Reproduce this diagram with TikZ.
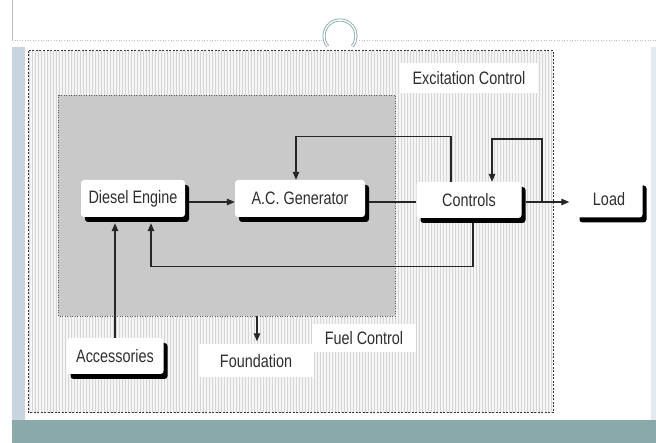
\documentclass[tikz,border=0pt]{standalone}
\usepackage{fontspec}
\newfontfamily\labfont[FakeStretch=0.8]{Liberation Sans}
\usetikzlibrary{arrows.meta,shadows}
\definecolor{tealc}{RGB}{138,169,170}
\definecolor{stripc}{RGB}{200,213,222}
\definecolor{greyc}{RGB}{201,201,201}
\definecolor{ringc}{RGB}{130,165,165}
\begin{document}
\begin{tikzpicture}[x=1pt,y=-1pt,
  shbox/.style={fill=white, rounded corners=3pt, inner sep=0pt, text=black!82,
    font=\labfont\fontsize{18}{20}\selectfont,
    drop shadow={shadow xshift=4pt, shadow yshift=-5pt, fill=black, opacity=1}},
  lbl/.style={fill=white, inner sep=0pt, text=black!82, font=\labfont\fontsize{18}{20}\selectfont},
  conn/.style={line width=1.2pt, black!85},
  arr/.style={conn, -{Triangle[length=8pt,width=6.5pt]}}]
\useasboundingbox (0,0) rectangle (656,443);
\fill[white] (0,0) rectangle (656,443);
% slide frame
\draw[gray!50, line width=0.6pt] (12,0) -- (12,40);
\draw[gray!50, dotted, line width=0.6pt] (12,40) -- (323,40);
\draw[gray!50, dotted, line width=0.6pt] (359,40) -- (656,40);
\draw[ringc, line width=0.8pt, double=white, double distance=1.4pt] (340,36) ++(140:16) arc[start angle=140, end angle=400, radius=16];
\fill[stripc] (12,47) rectangle (25,420);
\fill[stripc!50] (651,47) rectangle (656,420);
\fill[tealc] (12,420) rectangle (656,443);
% striped area
\fill[gray!8] (28,51) rectangle (553,413);
\foreach \x in {29,32,...,552} \draw[gray!32, line width=0.9pt] (\x,51) -- (\x,413);
\draw[black!80, dash pattern=on 2pt off 1.5pt, line width=1pt] (28,51) rectangle (553,413);
% grey area
\fill[greyc] (58,95) rectangle (395,316);
\draw[gray!70!black, dotted, line width=0.5pt] (58,95) rectangle (395,316);
\coordinate (gb) at (257,316);
% labels
\node[lbl, minimum width=138pt, minimum height=30pt] (exc) at (469,78) {Excitation Control};
\node[lbl, minimum width=115pt, minimum height=33pt] (fnd) at (256,361) {Foundation};
\node[lbl, minimum width=104pt, minimum height=28pt] (fuel) at (364,338) {Fuel Control};
% boxes
\node[shbox, minimum width=104pt, minimum height=37pt] (de) at (133,198.5) {Diesel Engine};
\node[shbox, minimum width=130pt, minimum height=37pt] (ac) at (300,198.5) {A.C. Generator};
\node[shbox, minimum width=105pt, minimum height=36pt] (ct) at (469,200) {Controls};
\node[shbox, minimum width=67pt, minimum height=37pt] (ld) at (609,199) {Load};
\node[shbox, minimum width=97pt, minimum height=36pt] (acc) at (115,356) {Accessories};
% connectors
\draw[arr] ([shift={(4,3.5)}]de.east) -- ([shift={(0,3.5)}]ac.west);
\draw[conn] ([shift={(4,3.5)}]ac.east) -- ([shift={(0,2)}]ct.west);
\coordinate (jn) at (542,202);
\draw[arr] ([shift={(4,2)}]ct.east) -- ([shift={(-6,3)}]ld.west);
\draw[arr] (jn) -- (542,139) -| ([xshift=23]ct.north);
\draw[arr] ([xshift=-18]ct.north) -- ++(0,-45) -| ([xshift=-4]ac.north);
\draw[arr] ([shift={(4,5)}]ct.south) -- ++(0,43) -| ([shift={(18,6)}]de.south);
\draw[arr] (acc.north) -- ([shift={(-18,6)}]de.south);
\draw[arr] (gb) -- ([yshift=3]gb |- fnd.north);
\end{tikzpicture}
\end{document}
